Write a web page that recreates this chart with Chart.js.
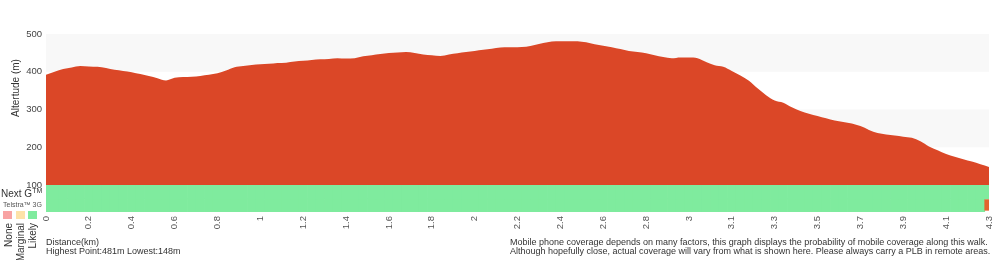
<!DOCTYPE html>
<html>
<head>
<meta charset="utf-8">
<script src="https://cdn.jsdelivr.net/npm/chart.js@4.4.1/dist/chart.umd.min.js"></script>
<style>
  body { margin: 0; background: #fff; font-family: "Liberation Sans", Arial, sans-serif; color: #333; }
  #wrap { position: relative; width: 1000px; height: 260px; overflow: hidden; }
  canvas { position: absolute; left: 0; top: 0; }
  .txt { position: absolute; white-space: nowrap; line-height: 1; }
  .vert { position: absolute; writing-mode: vertical-rl; transform: rotate(180deg); white-space: nowrap; line-height: 1; font-size: 10px; color: #333; }
  .sq { position: absolute; width: 9px; height: 8px; top: 211px; }
</style>
</head>
<body>
<div id="wrap">
  <canvas id="profile" width="1000" height="260"></canvas>

  <div class="txt" id="yTitle" style="left:-19px; top:83px; font-size:10px; transform: rotate(-90deg); width:70px; text-align:center;">Altertude (m)</div>

  <div class="txt" style="left:1px; top:187px; font-size:10px;">Next G<sup style="font-size:7px; vertical-align: 4px;">TM</sup></div>
  <div class="txt" style="left:3px; top:201px; font-size:7px; color:#555;">Telstra™ 3G</div>
  <div class="sq" style="left:3px; background:#f8a3a3;"></div>
  <div class="sq" style="left:16px; background:#fde2a8;"></div>
  <div class="sq" style="left:28px; background:#7feb9e;"></div>
  <div class="vert" style="left:4px; top:223px;">None</div>
  <div class="vert" style="left:16px; top:223px;">Marginal</div>
  <div class="vert" style="left:28px; top:223px;">Likely</div>

  <div class="txt" style="left:46px; top:238px; font-size:9px;">Distance(km)</div>
  <div class="txt" style="left:46px; top:247px; font-size:9px;" id="hiLo"></div>

  <div class="txt" style="left:510px; top:238px; font-size:9px;">Mobile phone coverage depends on many factors, this graph displays the probability of mobile coverage along this walk.</div>
  <div class="txt" style="left:510px; top:247px; font-size:9px;">Although hopefully close, actual coverage will vary from what is shown here. Please always carry a PLB in remote areas.</div>
</div>

<script>
// tick labels under the profile, one every 5 samples
const distLabels = ['0', '0.2', '0.4', '0.6', '0.8', '1', '1.2', '1.4', '1.6', '1.8', '2',
    '2.2', '2.4', '2.6', '2.8', '3', '3.1', '3.3', '3.5', '3.7', '3.9', '4.1', '4.3'];
const samplesPerLabel = 5;

// altitude (m), 111 samples along the walk
const altitude = [
    392, 400, 407, 411, 415, 414, 413, 410, 405, 402,
    399, 394, 389, 383, 377, 384, 386, 387, 389, 392,
    396, 403, 412, 415, 418, 420, 421, 423, 424, 427,
    429, 431, 433, 434, 436, 435, 436, 441, 444, 447,
    450, 451, 452, 450, 446, 444, 442, 446, 449, 452,
    455, 458, 461, 464, 465, 465, 466, 471, 476, 480,
    481, 481, 481, 478, 473, 469, 465, 460, 455, 452,
    449, 444, 439, 436, 438, 438, 436, 426, 417, 413,
    402, 390, 376, 356, 338, 324, 318, 306, 296, 289,
    283, 277, 271, 267, 263, 256, 246, 238, 234, 231,
    228, 225, 216, 202, 192, 182, 175, 168, 162, 155,
    148
];

// coverage per sample: 0 = None, 1 = Marginal, 2 = Likely, 3 = no reading
const nextG = [
    2, 2, 2, 2, 2, 2, 2, 2, 2, 2, 2, 2, 2, 2, 2, 2, 2, 2, 2, 2,
    2, 2, 2, 2, 2, 2, 2, 2, 2, 2, 2, 2, 2, 2, 2, 2, 2, 2, 2, 2,
    2, 2, 2, 2, 2, 2, 2, 2, 2, 2, 2, 2, 2, 2, 2, 2, 2, 2, 2, 2,
    2, 2, 2, 2, 2, 2, 2, 2, 2, 2, 2, 2, 2, 2, 2, 2, 2, 2, 2, 2,
    2, 2, 2, 2, 2, 2, 2, 2, 2, 2, 2, 2, 2, 2, 2, 2, 2, 2, 2, 2,
    2, 2, 2, 2, 2, 2, 2, 2, 2, 2, 2
];
const telstra3G = [
    2, 2, 2, 2, 2, 2, 2, 2, 2, 2, 2, 2, 2, 2, 2, 2, 2, 2, 2, 2,
    2, 2, 2, 2, 2, 2, 2, 2, 2, 2, 2, 2, 2, 2, 2, 2, 2, 2, 2, 2,
    2, 2, 2, 2, 2, 2, 2, 2, 2, 2, 2, 2, 2, 2, 2, 2, 2, 2, 2, 2,
    2, 2, 2, 2, 2, 2, 2, 2, 2, 2, 2, 2, 2, 2, 2, 2, 2, 2, 2, 2,
    2, 2, 2, 2, 2, 2, 2, 2, 2, 2, 2, 2, 2, 2, 2, 2, 2, 2, 2, 2,
    2, 2, 2, 2, 2, 2, 2, 2, 2, 2, 3
];

const yTicks = [100, 200, 300, 400, 500];

const coverageColors = ['#f8a3a3', '#fde2a8', '#7feb9e', '#e3632f'];
const profileColor = '#db4727';
const bandColor = '#f8f8f8';

const labels = altitude.map((_, i) => i % samplesPerLabel === 0 ? distLabels[i / samplesPerLabel] : '');

document.getElementById('hiLo').textContent =
    'Highest Point:' + Math.max(...altitude) + 'm Lowest:' + Math.min(...altitude) + 'm';

// grey bands behind 500-400 and 300-200
const bandsPlugin = {
    id: 'bands',
    beforeDatasetsDraw(chart) {
        const { ctx, chartArea } = chart;
        const y = chart.scales.y;
        ctx.save();
        ctx.fillStyle = bandColor;
        [[500, 400], [300, 200]].forEach(([hi, lo]) => {
            const top = y.getPixelForValue(hi);
            const bot = y.getPixelForValue(lo);
            ctx.fillRect(chartArea.left, top, chartArea.right - chartArea.left, bot - top);
        });
        ctx.restore();
    }
};

const tickFont = { family: 'Liberation Sans', size: 9.5 };

new Chart(document.getElementById('profile'), {
    type: 'line',
    data: {
        labels: labels,
        datasets: [
            {
                label: 'Altitude',
                data: altitude,
                yAxisID: 'y',
                backgroundColor: profileColor,
                borderWidth: 0,
                pointRadius: 0,
                fill: 'start',
                tension: 0.3,
                cubicInterpolationMode: 'monotone'
            },
            {
                type: 'bar',
                label: 'Next G',
                // bottom a touch lower so the two rows overlap without a seam
                data: nextG.map(() => [0.95, 2]),
                yAxisID: 'y2',
                backgroundColor: nextG.map(c => coverageColors[c]),
                borderWidth: 0,
                grouped: false,
                barPercentage: 1.08,
                categoryPercentage: 1
            },
            {
                type: 'bar',
                label: 'Telstra 3G',
                data: telstra3G.map(c => c === 3 ? [0.1, 0.95] : [0, 1]),
                yAxisID: 'y2',
                backgroundColor: telstra3G.map(c => coverageColors[c]),
                borderWidth: 0,
                grouped: false,
                barPercentage: 1.08,
                categoryPercentage: 1
            }
        ]
    },
    options: {
        responsive: false,
        animation: false,
        layout: { padding: { top: 34, right: 11, bottom: 20, left: 0 } },
        plugins: { legend: { display: false }, tooltip: { enabled: false } },
        scales: {
            x: {
                type: 'category',
                offset: false,
                grid: { display: false, drawTicks: false },
                border: { display: false },
                ticks: {
                    autoSkip: false,
                    minRotation: 90,
                    maxRotation: 90,
                    padding: 4,
                    color: '#555',
                    font: tickFont,
                    callback: (v, i) => labels[i]
                },
                afterFit: s => { s.height = 28; s.paddingLeft = 0; s.paddingRight = 0; }
            },
            y: {
                position: 'left',
                stack: 'profile',
                stackWeight: 151,
                weight: 2,
                min: 100,
                max: 500,
                afterBuildTicks: s => { s.ticks = yTicks.map(v => ({ value: v })); },
                grid: { display: false, drawTicks: false },
                border: { display: false },
                ticks: { color: '#444', font: tickFont, padding: 4 },
                afterFit: s => { s.width = 46; }
            },
            y2: {
                position: 'left',
                stack: 'profile',
                stackWeight: 27,
                weight: 1,
                min: 0,
                max: 2,
                grid: { display: false, drawTicks: false },
                border: { display: false },
                ticks: { display: false },
                afterFit: s => { s.width = 46; }
            }
        }
    },
    plugins: [bandsPlugin]
});
</script>
</body>
</html>
